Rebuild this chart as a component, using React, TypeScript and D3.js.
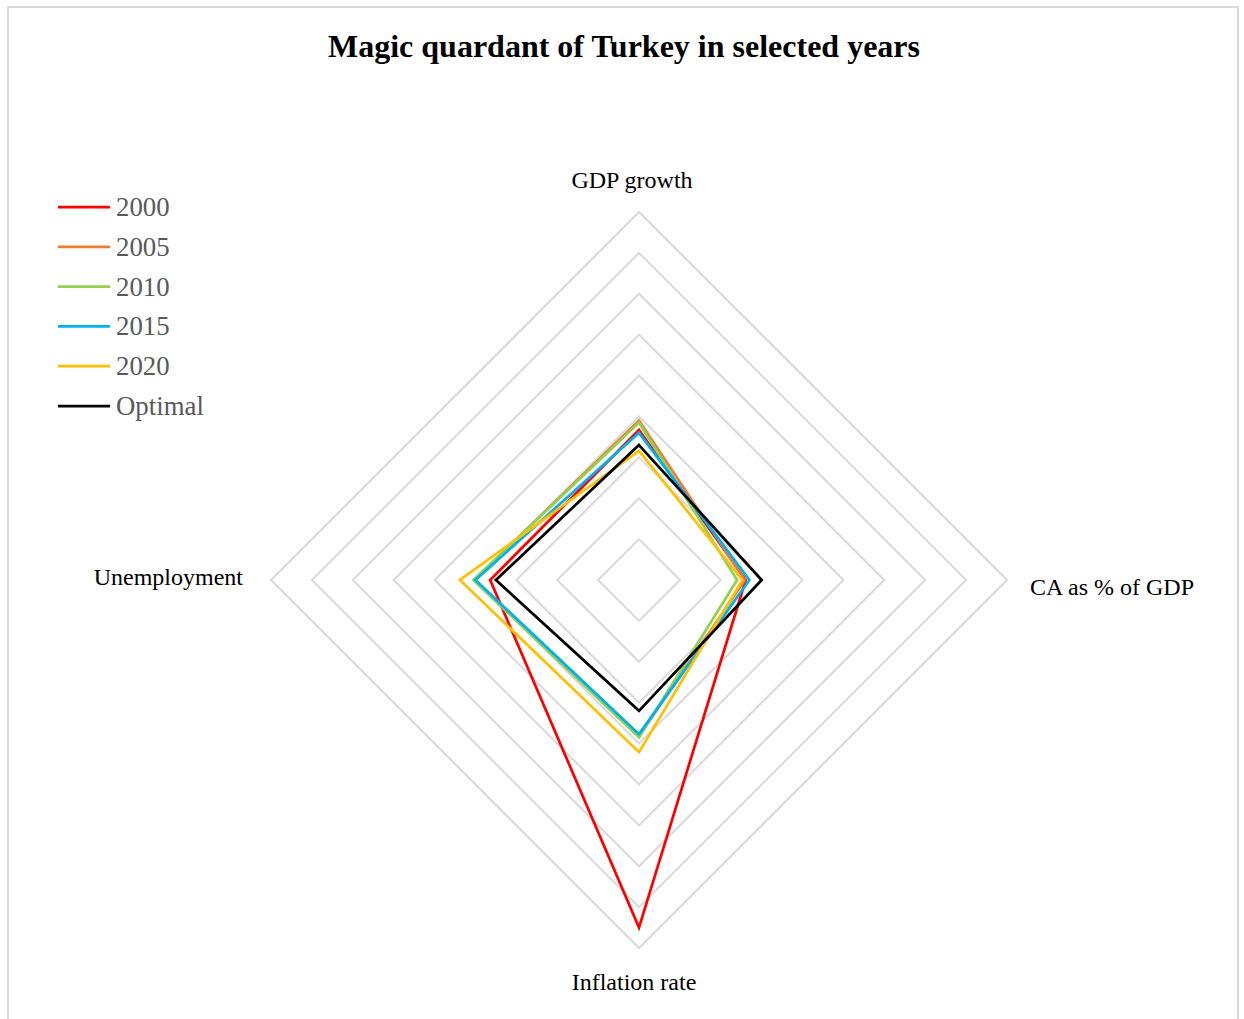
import React from "react";
import * as d3 from "d3";

const categories = ["GDP growth", "CA as % of GDP", "Inflation rate", "Unemployment"];
const seriesNames = ["2000", "2005", "2010", "2015", "2020", "Optimal"];
const values2000 = [6.7, -3.9, 55.0, 6.4];
const values2005 = [9.0, -4.1, 8.2, 10.3];
const values2010 = [8.5, -6.0, 8.5, 10.5];
const values2015 = [6.0, -3.0, 7.7, 10.0];
const values2020 = [1.6, -4.7, 12.1, 13.8];
const valuesOptimal = [3, 0, 2, 5];
const seriesColors = ["#FF0000", "#ED7D31", "#92D050", "#00B0F0", "#FFC000", "#000000"];
const ringTicks = [-20, -10, 0, 10, 20, 30, 40, 50, 60];

const allSeries = [values2000, values2005, values2010, values2015, values2020, valuesOptimal];

export default function App() {
  const W = 1244;
  const H = 1019;
  const cx = 639;
  const cy = 580;
  const R = 368;
  const r = d3.scaleLinear().domain([-30, 60]).range([0, R]);
  const ang = (i: number) => (i * 2 * Math.PI) / categories.length;

  const ringLine = d3
    .lineRadial<number>()
    .angle((_, i) => ang(i))
    .radius((d) => r(d))
    .curve(d3.curveLinearClosed);

  const seriesLine = d3
    .lineRadial<number>()
    .angle((_, i) => ang(i))
    .radius((d) => r(d))
    .curve(d3.curveLinearClosed);

  const font = "'Liberation Serif', 'Times New Roman', serif";

  const labelPos = [
    { x: cx - 7, y: 188, anchor: "middle" },
    { x: 1030, y: 595, anchor: "start" },
    { x: cx - 5, y: 990, anchor: "middle" },
    { x: 243, y: 585, anchor: "end" },
  ];

  return (
    <svg width={W} height={H} style={{ position: "absolute", left: 0, top: 0 }}>
      <rect x={0} y={0} width={W} height={H} fill="#fff" />
      <rect x={8} y={7} width={1230} height={1030} fill="#fff" stroke="#d9d9d9" strokeWidth={2} />
      <text
        x={624}
        y={57}
        textAnchor="middle"
        fontFamily={font}
        fontWeight="bold"
        fontSize={32}
        fill="#000"
      >
        Magic quardant of Turkey in selected years
      </text>
      <g transform={`translate(${cx},${cy})`}>
        {ringTicks.map((t) => (
          <path
            key={t}
            d={ringLine(categories.map(() => t)) || ""}
            fill="none"
            stroke="#d9d9d9"
            strokeWidth={2}
          />
        ))}
        {allSeries.map((s, i) => (
          <path
            key={seriesNames[i]}
            d={seriesLine(s) || ""}
            fill="none"
            stroke={seriesColors[i]}
            strokeWidth={2.75}
            strokeLinejoin="miter"
          />
        ))}
      </g>
      {categories.map((c, i) => (
        <text
          key={c}
          x={labelPos[i].x}
          y={labelPos[i].y}
          textAnchor={labelPos[i].anchor as any}
          fontFamily={font}
          fontSize={24}
          fill="#000"
        >
          {c}
        </text>
      ))}
      {seriesNames.map((n, i) => (
        <g key={n} transform={`translate(58,${207 + i * 39.8})`}>
          <line x1={0} x2={52} y1={0} y2={0} stroke={seriesColors[i]} strokeWidth={2.75} />
          <text x={58} y={9} fontFamily={font} fontSize={26.8} fill="#595959">
            {n}
          </text>
        </g>
      ))}
    </svg>
  );
}
